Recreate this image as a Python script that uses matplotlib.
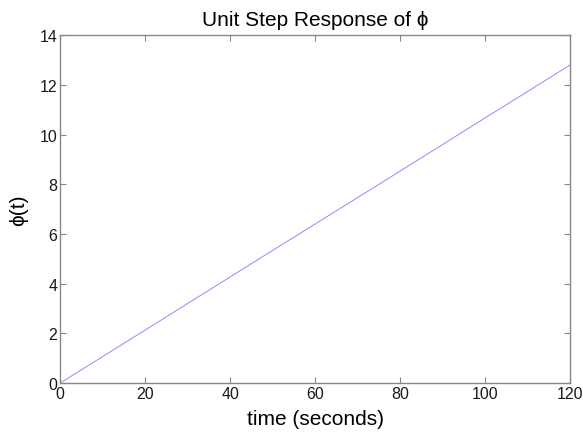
import matplotlib
matplotlib.use('Agg')
import matplotlib.pyplot as plt

# step response
t = [0, 20, 40, 60, 80, 100, 120]
phi = [0, 2.13, 4.27, 6.4, 8.53, 10.67, 12.8]

x_ticks = [0, 20, 40, 60, 80, 100, 120]
y_ticks = [0, 2, 4, 6, 8, 10, 12, 14]

plt.rcParams['font.family'] = ['Liberation Sans', 'DejaVu Sans']

fig = plt.figure(figsize=(5.83, 4.35), dpi=100)
ax = fig.add_axes([0.103, 0.117, 0.875, 0.8])

ax.plot(t, phi, color='#8c8cff', linewidth=0.7)

ax.set_xlim(0, 120)
ax.set_ylim(0, 14)
ax.set_xticks(x_ticks)
ax.set_yticks(y_ticks)
ax.tick_params(direction='in', top=True, right=True, length=4, width=0.8,
               colors='#888888', labelcolor='#1a1a1a', labelsize=11.5, pad=2)
for s in ax.spines.values():
    s.set_color('#888888')
    s.set_linewidth(1.0)

ax.set_title('Unit Step Response of \u03d5', fontsize=15, pad=7)
ax.set_xlabel('time (seconds)', fontsize=15, labelpad=6)
ax.set_ylabel('\u03d5(t)', fontsize=15, labelpad=8)

fig.savefig('out.png', dpi=100)
